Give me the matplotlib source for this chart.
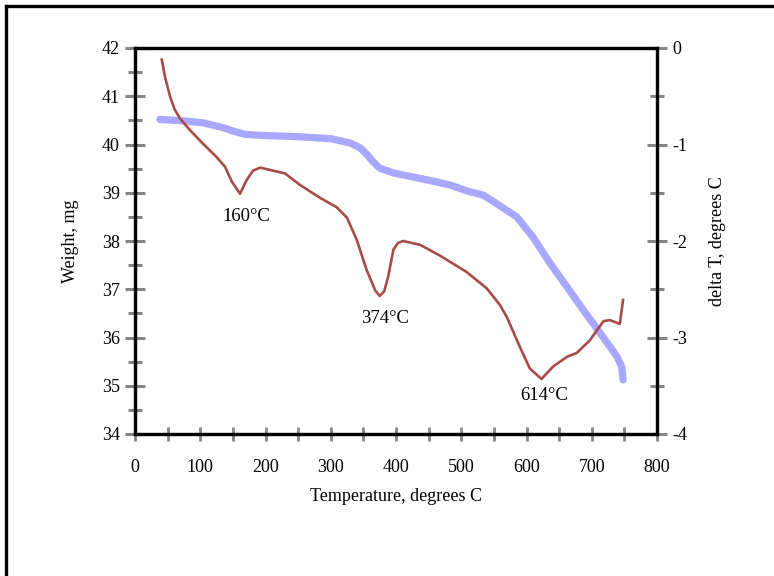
import matplotlib
matplotlib.use("Agg")
import matplotlib.pyplot as plt
from matplotlib.lines import Line2D
from matplotlib.ticker import MultipleLocator

plt.rcParams['font.family'] = ['Liberation Serif', 'DejaVu Serif']
plt.rcParams['axes.unicode_minus'] = False

# Weight (TGA) curve, left axis
tga_temp = [38, 74, 104, 135, 150, 169, 192, 253, 300, 330, 345, 355, 365, 375, 396, 457,
            483, 508, 534, 549, 585, 610, 636, 662, 687, 713, 739, 746, 748]
tga_weight = [40.52, 40.49, 40.45, 40.35, 40.28, 40.21, 40.19, 40.16, 40.12, 40.03, 39.93,
              39.80, 39.64, 39.51, 39.41, 39.24, 39.16, 39.04, 38.95, 38.82, 38.50, 38.08,
              37.54, 37.05, 36.57, 36.09, 35.60, 35.39, 35.12]

# DTA curve, right axis
dta_temp = [41, 46, 54, 61, 69, 84, 104, 125, 138, 148, 161, 171, 181, 192, 211, 230, 253,
            283, 309, 325, 340, 355, 368, 375, 382, 388, 396, 403, 411, 437, 467, 508, 539,
            559, 570, 590, 605, 623, 641, 662, 677, 697, 718, 728, 743, 748]
dta_delta = [-0.12, -0.30, -0.51, -0.64, -0.73, -0.85, -0.99, -1.13, -1.23, -1.38, -1.51,
             -1.37, -1.27, -1.24, -1.27, -1.30, -1.42, -1.55, -1.65, -1.76, -1.99, -2.30,
             -2.51, -2.57, -2.52, -2.37, -2.09, -2.02, -2.00, -2.04, -2.15, -2.32, -2.49,
             -2.66, -2.79, -3.10, -3.32, -3.43, -3.30, -3.20, -3.16, -3.03, -2.83, -2.82,
             -2.86, -2.61]

peak_labels = ["160°C", "374°C", "614°C"]
peak_x = [170, 383, 627]
peak_y = [-1.75, -2.80, -3.60]

fig = plt.figure(figsize=(7.74, 5.76), dpi=100)
ax = fig.add_axes([135/774, 1-434/576, (657-135)/774, (434-48)/576])
ax2 = ax.twinx()

ax.plot(tga_temp, tga_weight, color='#a8a8ff', lw=5.2, solid_capstyle='round',
        solid_joinstyle='round', zorder=2)
ax2.plot(dta_temp, dta_delta, color='#a84c48', lw=1.9, solid_joinstyle='round', zorder=3)

ax.set_xlim(0, 800)
ax.set_ylim(34, 42)
ax2.set_ylim(-4, 0)

ax.xaxis.set_major_locator(MultipleLocator(100))
ax.xaxis.set_minor_locator(MultipleLocator(50))
ax.yaxis.set_major_locator(MultipleLocator(1))
ax.yaxis.set_minor_locator(MultipleLocator(0.5))
ax2.yaxis.set_major_locator(MultipleLocator(1))
ax2.yaxis.set_minor_locator(MultipleLocator(0.5))

tc = '#858585'
for a in (ax, ax2):
    for s in a.spines.values():
        s.set_linewidth(2.3)
        s.set_color('black')
ax.tick_params(axis='x', which='both', direction='inout', length=9.5, width=2, color=tc,
               labelsize=13, pad=13, top=False)
ax.tick_params(axis='y', which='major', direction='inout', length=14, width=2.2, color=tc,
               labelsize=13, pad=4)
ax.tick_params(axis='y', which='minor', direction='inout', length=10, width=2.2, color=tc)
ax2.tick_params(axis='y', which='major', direction='inout', length=14, width=2.2, color=tc,
                labelsize=13, pad=4)
ax2.tick_params(axis='y', which='minor', direction='inout', length=10, width=2.2, color=tc)

ax.set_xlabel('Temperature, degrees C', fontsize=13, labelpad=9)
ax.set_ylabel('Weight, mg', fontsize=13, labelpad=16)
ax2.set_ylabel('delta T, degrees C', fontsize=13, labelpad=16)

for lab, x, y in zip(peak_labels, peak_x, peak_y):
    ax2.text(x, y, lab, ha='center', va='center', fontsize=13.5)

# outer frame (top and left edges)
fig.add_artist(Line2D([6/774, 1], [1-5.5/576, 1-5.5/576], transform=fig.transFigure,
                      color='black', lw=2.4))
fig.add_artist(Line2D([6/774, 6/774], [0, 1-5.5/576], transform=fig.transFigure,
                      color='black', lw=2.4))

fig.savefig('out.png', dpi=100)
